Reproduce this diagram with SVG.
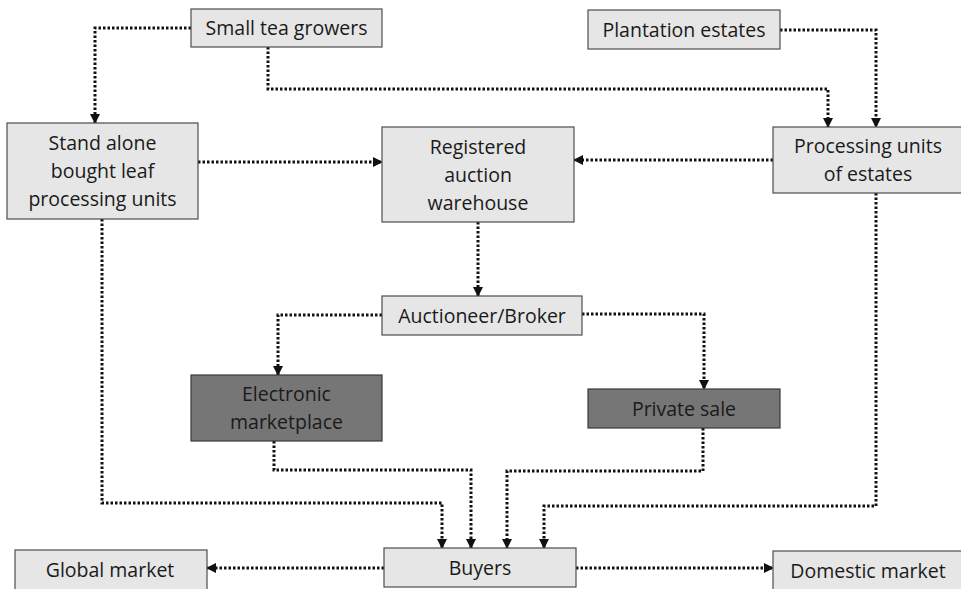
<svg xmlns="http://www.w3.org/2000/svg" width="961" height="589" viewBox="0 0 961 589">
<defs>
<marker id="ah" viewBox="0 0 10 10" refX="9" refY="5" markerWidth="10" markerHeight="10" markerUnits="userSpaceOnUse" orient="auto">
<path d="M0,0 L10,5 L0,10 Z" fill="#111"/>
</marker>
<style>
.box{fill:#e6e6e6;stroke:#4d4d4d;stroke-width:1.2}
.dark{fill:#767676;stroke:#3a3a3a;stroke-width:1.2}
.t{font-family:"Open Sans","Noto Sans","Liberation Sans",sans-serif;font-size:19.5px;fill:#1a1a1a;text-anchor:middle}
.c{fill:none;stroke:#111;stroke-width:3;stroke-dasharray:2.5 2;marker-end:url(#ah)}
</style>
</defs>
<rect width="961" height="589" fill="#fff"/>
<g id="connectors">
<path class="c" d="M191,28 H95 V123"/>
<path class="c" d="M268,47 V89 H828 V127"/>
<path class="c" d="M780,30 H876 V127"/>
<path class="c" d="M198,162 H382"/>
<path class="c" d="M773,160 H574"/>
<path class="c" d="M478,222 V296"/>
<path class="c" d="M382,315 H278 V375"/>
<path class="c" d="M582,314 H704 V389"/>
<path class="c" d="M274,441 V470 H471 V548"/>
<path class="c" d="M102,219 V503 H442 V548"/>
<path class="c" d="M703,428 V471 H507 V548"/>
<path class="c" d="M876,193 V506 H544 V548"/>
<path class="c" d="M384,568 H207"/>
<path class="c" d="M576,568 H773"/>
</g>
<g id="small-tea-growers"><rect class="box" x="191" y="9" width="191" height="38"/><text class="t" x="286.5" y="35">Small tea growers</text></g>
<g id="plantation-estates"><rect class="box" x="588" y="10" width="192" height="39"/><text class="t" x="684" y="37">Plantation estates</text></g>
<g id="stand-alone"><rect class="box" x="7" y="123" width="191" height="96"/><text class="t" x="102.5" y="150">Stand alone</text><text class="t" x="102.5" y="178">bought leaf</text><text class="t" x="102.5" y="206">processing units</text></g>
<g id="registered-warehouse"><rect class="box" x="382" y="127" width="192" height="95"/><text class="t" x="478" y="154">Registered</text><text class="t" x="478" y="182">auction</text><text class="t" x="478" y="210">warehouse</text></g>
<g id="processing-units-estates"><rect class="box" x="773" y="127" width="192" height="66"/><text class="t" x="868" y="153">Processing units</text><text class="t" x="868" y="181">of estates</text></g>
<g id="auctioneer-broker"><rect class="box" x="382" y="296" width="200" height="39"/><text class="t" x="482" y="323">Auctioneer/Broker</text></g>
<g id="electronic-marketplace"><rect class="dark" x="191" y="375" width="191" height="66"/><text class="t" x="286.5" y="401">Electronic</text><text class="t" x="286.5" y="429">marketplace</text></g>
<g id="private-sale"><rect class="dark" x="588" y="389" width="192" height="39"/><text class="t" x="684" y="416">Private sale</text></g>
<g id="global-market"><rect class="box" x="15" y="550" width="192" height="40"/><text class="t" x="110" y="577">Global market</text></g>
<g id="buyers"><rect class="box" x="384" y="548" width="192" height="39"/><text class="t" x="480" y="575">Buyers</text></g>
<g id="domestic-market"><rect class="box" x="773" y="551" width="192" height="40"/><text class="t" x="868" y="578">Domestic market</text></g>
</svg>
